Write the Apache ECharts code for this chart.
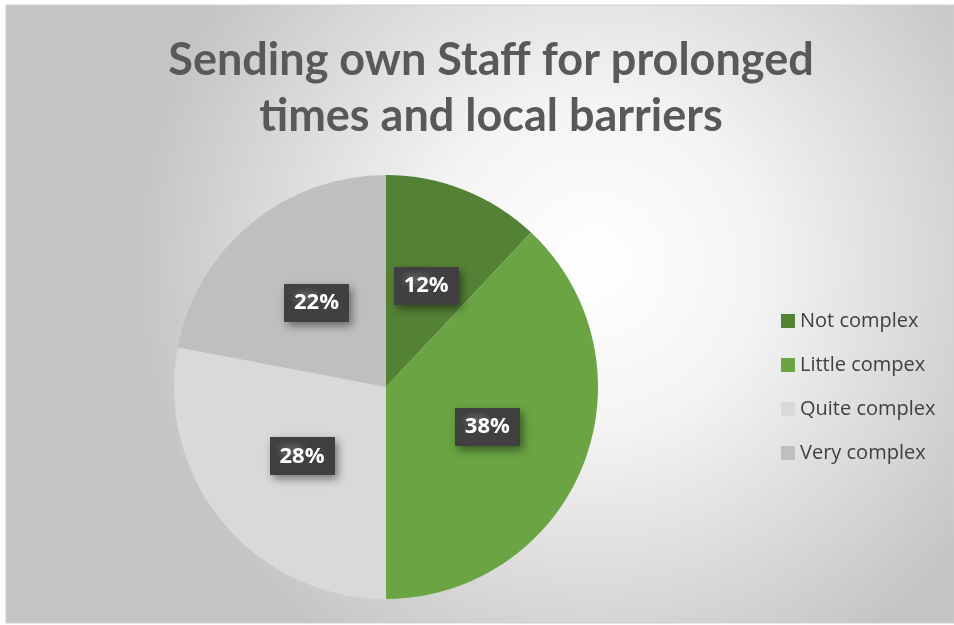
<!DOCTYPE html>
<html><head><meta charset="utf-8">
<script src="https://cdn.jsdelivr.net/npm/echarts@6/dist/echarts.min.js"></script>
<style>html,body{margin:0;padding:0;background:#fff}#c{width:954px;height:625px}</style>
</head><body><div id="c"></div>
<script>
const categories = ['Not complex', 'Little compex', 'Quite complex', 'Very complex'];
const values = [12, 38, 28, 22];
const colors = ['#548235', '#6aa443', '#d9d9d9', '#bfbfbf'];
const titleText = 'Sending own Staff for prolonged\ntimes and local barriers';

const pc = document.createElement('canvas');
pc.width = 6; pc.height = 6;
const g = pc.getContext('2d');
g.fillStyle = '#404040'; g.fillRect(0, 0, 6, 6);
g.fillStyle = '#585858'; g.fillRect(1, 1, 2, 2);

const chart = echarts.init(document.getElementById('c'));
chart.setOption({
  backgroundColor: '#ffffff',
  graphic: [{
    type: 'rect', z: -10, silent: true,
    shape: { x: 6, y: 5, width: 948, height: 618 },
    style: {
      fill: { type: 'radial', x: 0.62, y: 0.42, r: 0.75,
        colorStops: [{ offset: 0, color: '#ffffff' }, { offset: 0.35, color: '#f4f4f4' }, { offset: 1, color: '#c4c4c4' }] },
      stroke: '#d0d0d0', lineWidth: 1
    }
  }],
  title: {
    text: titleText, left: 486, top: 27, textAlign: 'center',
    textStyle: { fontFamily: 'Lato', fontWeight: 'bold', fontSize: 45, color: '#595959', lineHeight: 56 }
  },
  legend: {
    orient: 'vertical', left: 776, top: 306, icon: 'rect', itemWidth: 14, itemHeight: 14, itemGap: 24,
    textStyle: { fontFamily: 'Open Sans', fontSize: 20, color: '#404040' },
    data: categories
  },
  series: [{
    type: 'pie', center: [386, 387], radius: 212, startAngle: 90, clockwise: true,
    color: colors, silent: true,
    data: categories.map((n, i) => ({ name: n, value: values[i] })),
    label: {
      position: 'inside', formatter: '{d}%',
      fontFamily: 'Open Sans', fontWeight: 'bold', fontSize: 22, color: '#ffffff',
      backgroundColor: { image: pc }, padding: [9, 10, 7, 10],
      shadowBlur: 8, shadowOffsetX: 3, shadowOffsetY: 4, shadowColor: 'rgba(0,0,0,0.45)'
    },
    labelLine: { show: false }
  }]
});
</script></body></html>
